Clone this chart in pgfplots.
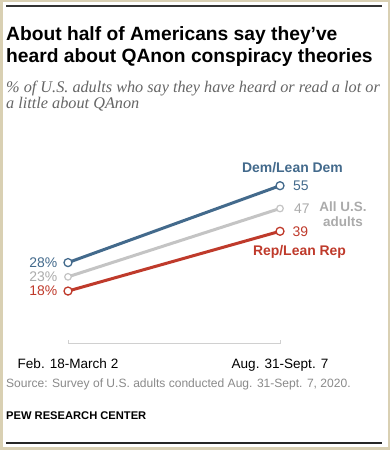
\documentclass[border=0pt]{standalone}
\usepackage{fontspec}
\setmainfont{Liberation Sans}
\newfontfamily\serifface{Liberation Serif}
\usepackage{pgfplots}
\pgfplotsset{compat=1.18}
\definecolor{dem}{HTML}{436A8C}
\definecolor{rep}{HTML}{BF3A2B}
\definecolor{allg}{HTML}{C4C4C4}
\definecolor{allt}{HTML}{ABABAB}
\definecolor{framec}{HTML}{D9D0B3}
\definecolor{subt}{HTML}{666666}
\definecolor{srcg}{HTML}{8A8A8A}
\definecolor{axg}{HTML}{D0D0D0}
\begin{document}
\begin{tikzpicture}[x=1bp,y=1bp]
\path[use as bounding box] (0,0) rectangle (390,450);
\fill[framec] (0,0) rectangle (390,450);
\fill[white] (2.5,2.5) rectangle (387.5,447.5);
\draw[line width=1.2bp, black!80] (6,444) -- (382,444);
\draw[line width=2bp, black!85] (6,7) -- (382,7);
\node[anchor=base west, inner sep=0, font=\fontsize{19.3}{22}\selectfont\bfseries] at (6,409) {About half of Americans say they’ve};
\node[anchor=base west, inner sep=0, font=\fontsize{19.3}{22}\selectfont\bfseries] at (6,387) {heard about QAnon conspiracy theories};
\node[anchor=base west, inner sep=0, text=subt, font=\fontsize{16.3}{18}\selectfont\serifface\itshape] at (6,357.3) {\% of U.S. adults who say they have heard or read a lot or};
\node[anchor=base west, inner sep=0, text=subt, font=\fontsize{16.3}{18}\selectfont\serifface\itshape] at (6,341.5) {a little about QAnon};
\node[anchor=base west, inner sep=0, text=srcg, font=\fontsize{12.1}{14}\selectfont] at (6,62.5) {Source: Survey of U.S. adults conducted Aug. 31-Sept. 7, 2020.};
\node[anchor=base west, inner sep=0, font=\fontsize{11.2}{13}\selectfont\bfseries] at (6,30) {PEW RESEARCH CENTER};
\begin{axis}[
  at={(68bp,106bp)}, anchor=south west,
  scale only axis, width=212bp, height=172.5bp,
  xmin=0, xmax=1, ymin=-0.6, ymax=60,
  enlarge x limits=false, clip=false,
  axis x line*=bottom, axis y line=none,
  x axis line style={-, draw=axg, line width=1bp},
  xtick={0,1}, xticklabels={Feb. 18-March 2, Aug. 31-Sept. 7},
  xtick align=inside, major tick length=4bp,
  tick style={draw=axg, line width=1bp},
  xticklabel style={anchor=base, yshift=-25bp, inner sep=0, font=\fontsize{13.6}{15}\selectfont},
  ytick=\empty,
]
\addplot[allg, line width=3bp, mark=*, mark size=3.3bp, mark options={fill=white, draw=allg, line width=1.2bp}] coordinates {(0,23) (1,47)};
\addplot[dem, line width=3bp, mark=*, mark size=4bp, mark options={fill=white, draw=dem, line width=1.3bp}] coordinates {(0,28) (1,55)};
\addplot[rep, line width=3bp, mark=*, mark size=4bp, mark options={fill=white, draw=rep, line width=1.3bp}] coordinates {(0,18) (1,39)};
\node[anchor=east, inner sep=0, xshift=-10.5bp, text=dem, font=\fontsize{14}{16}\selectfont] at (axis cs:0,28) {28\%};
\node[anchor=east, inner sep=0, xshift=-10.5bp, text=allt, font=\fontsize{14}{16}\selectfont] at (axis cs:0,23) {23\%};
\node[anchor=east, inner sep=0, xshift=-10.5bp, text=rep, font=\fontsize{14}{16}\selectfont] at (axis cs:0,18) {18\%};
\node[anchor=west, inner sep=0, xshift=13bp, text=dem, font=\fontsize{14}{16}\selectfont] at (axis cs:1,55) {55};
\node[anchor=west, inner sep=0, xshift=14bp, text=allt, font=\fontsize{14}{16}\selectfont] at (axis cs:1,47) {47};
\node[anchor=west, inner sep=0, xshift=12.5bp, text=rep, font=\fontsize{14}{16}\selectfont] at (axis cs:1,39) {39};
\node[inner sep=0, xshift=12.5bp, yshift=17.7bp, text=dem, font=\fontsize{14}{16}\selectfont\bfseries] at (axis cs:1,55) {Dem/Lean Dem};
\node[inner sep=0, xshift=63bp, yshift=-5.5bp, align=center, text=allt, font=\fontsize{13.5}{15}\selectfont\bfseries] at (axis cs:1,47) {All U.S.\\adults};
\node[inner sep=0, xshift=19.5bp, yshift=-21bp, text=rep, font=\fontsize{14}{16}\selectfont\bfseries] at (axis cs:1,39) {Rep/Lean Rep};
\end{axis}
\end{tikzpicture}
\end{document}
